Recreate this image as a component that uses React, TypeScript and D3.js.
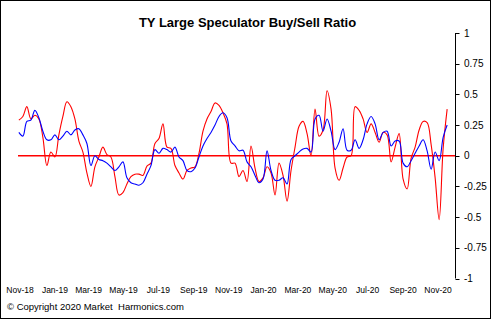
import React from "react";
import * as d3 from "d3";

const TITLE = "TY Large Speculator Buy/Sell Ratio";
const COPYRIGHT = "© Copyright 2020 Market  Harmonics.com";
const START_DATE = new Date(2018, 9, 30);
const X_TICK_LABELS = ["Nov-18","Jan-19","Mar-19","May-19","Jul-19","Sep-19","Nov-19","Jan-20","Mar-20","May-20","Jul-20","Sep-20","Nov-20"];
const Y_TICKS = [1, 0.75, 0.5, 0.25, 0, -0.25, -0.5, -0.75, -1];

const redSeries = [
  0.29, 0.32, 0.40, 0.30, 0.33, 0.30, 0.15, -0.08, 0.03, -0.01,
  0.17, 0.32, 0.44, 0.40, 0.30, 0.12, 0.03, -0.14, -0.25, -0.09,
  -0.01, 0.07, 0.01, -0.01, -0.17, -0.32, -0.30, -0.23, -0.17, -0.15,
  -0.15, -0.16, -0.085, -0.06, 0.10, 0.14, 0.26, 0.07, 0.06, -0.08,
  -0.14, -0.19, -0.12, -0.10, -0.09, 0.02, 0.20, 0.30, 0.36, 0.43,
  0.41, 0.35, 0.26, -0.06, -0.06, -0.17, -0.12, -0.21, 0.08, -0.10,
  -0.21, -0.18, -0.09, -0.14, -0.32, -0.06, -0.16, -0.37, -0.12, 0.07,
  0.24, 0.28, 0.18, 0.0, 0.38, 0.16, 0.21, 0.53, 0.38, -0.10,
  -0.20, -0.10, -0.01, 0.0, 0.40, 0.37, 0.30, 0.19, 0.26, 0.19,
  0.11, 0.19, 0.17, -0.05, 0.07, 0.18, -0.19, -0.27, -0.02, 0.07,
  0.21, 0.28, 0.27, 0.09, -0.18, -0.52, 0.06, 0.38,
];

const blueSeries = [
  0.19, 0.16, 0.28, 0.29, 0.37, 0.31, 0.20, 0.13, 0.13, 0.17,
  0.13, 0.16, 0.20, 0.17, 0.21, 0.22, 0.17, 0.10, -0.08, 0.0,
  -0.03, -0.04, -0.06, -0.09, -0.12, -0.09, -0.05, -0.18, -0.22, -0.23,
  -0.24, -0.22, -0.15, -0.08, 0.05, 0.02, 0.06, 0.05, 0.03, 0.07,
  -0.01, -0.04, -0.12, -0.13, -0.10, -0.01, 0.08, 0.14, 0.19, 0.25,
  0.32, 0.35, 0.31, 0.12, 0.08, 0.04, 0.045, -0.05, -0.09, -0.16,
  -0.22, -0.19, 0.04, -0.12, -0.20, -0.20, -0.18, -0.23, -0.03, 0.0,
  0.03, 0.055, 0.06, 0.03, 0.30, 0.33, 0.20, 0.30, 0.20, 0.05,
  0.11, 0.22, 0.045, 0.045, 0.13, 0.06, 0.13, 0.26, 0.32, 0.26,
  0.13, 0.19, 0.20, 0.08, 0.12, 0.12, -0.06, -0.09, -0.04, 0.02,
  0.08, 0.13, 0.04, -0.11, 0.03, -0.04, 0.15, 0.25,
];

const W = 492;
const H = 321;
const FONT = "'Liberation Sans', Arial, sans-serif";

export default function App() {
  const dates = redSeries.map((_, i) => d3.timeDay.offset(START_DATE, 7 * i));
  const tickDates = X_TICK_LABELS.map((_, i) => d3.timeMonth.offset(new Date(2018, 10, 1), 2 * i));

  const x = d3.scaleTime().domain([new Date(2018, 10, 1), new Date(2020, 10, 1)]).range([20, 438]);
  const y = d3.scaleLinear().domain([-1, 1]).range([278.5, 33]);
  const axisX = 455.5;

  const line = d3
    .line<number>()
    .x((_, i) => x(dates[i]))
    .y((d) => y(d))
    .curve(d3.curveCatmullRom.alpha(0.5));

  return (
    <svg width={W} height={H} style={{ position: "absolute", left: 0, top: 0, background: "#fff" }}>
      <rect x={0.5} y={0.5} width={490} height={318} fill="#fff" stroke="#000" strokeWidth={1} />
      <text x={247.5} y={26.5} textAnchor="middle" fontFamily={FONT} fontWeight="bold" fontSize={13} fill="#000">
        {TITLE}
      </text>

      <line x1={18} x2={axisX} y1={y(0)} y2={y(0)} stroke="#ff0000" strokeWidth={1.5} />

      <path d={line(redSeries) || ""} fill="none" stroke="#ff0000" strokeWidth={1.1} />
      <path d={line(blueSeries) || ""} fill="none" stroke="#0000ff" strokeWidth={1.1} />

      <line x1={axisX} x2={axisX} y1={y(1)} y2={y(-1)} stroke="#000" strokeWidth={1} />
      {Y_TICKS.map((t) => (
        <g key={t}>
          <line x1={axisX} x2={axisX + 4} y1={Math.round(y(t)) + 0.5} y2={Math.round(y(t)) + 0.5} stroke="#000" strokeWidth={1} />
          <text x={464} y={y(t)} dy="0.35em" fontFamily={FONT} fontSize={10} fill="#000">
            {String(t)}
          </text>
        </g>
      ))}

      {X_TICK_LABELS.map((lab, i) => (
        <text key={lab} x={x(tickDates[i])} y={293} textAnchor="middle" fontFamily={FONT} fontSize={8.5} fill="#000">
          {lab}
        </text>
      ))}

      <text x={7} y={310} fontFamily={FONT} fontSize={9.5} fill="#000" style={{ whiteSpace: "pre" }}>
        {COPYRIGHT}
      </text>
    </svg>
  );
}
